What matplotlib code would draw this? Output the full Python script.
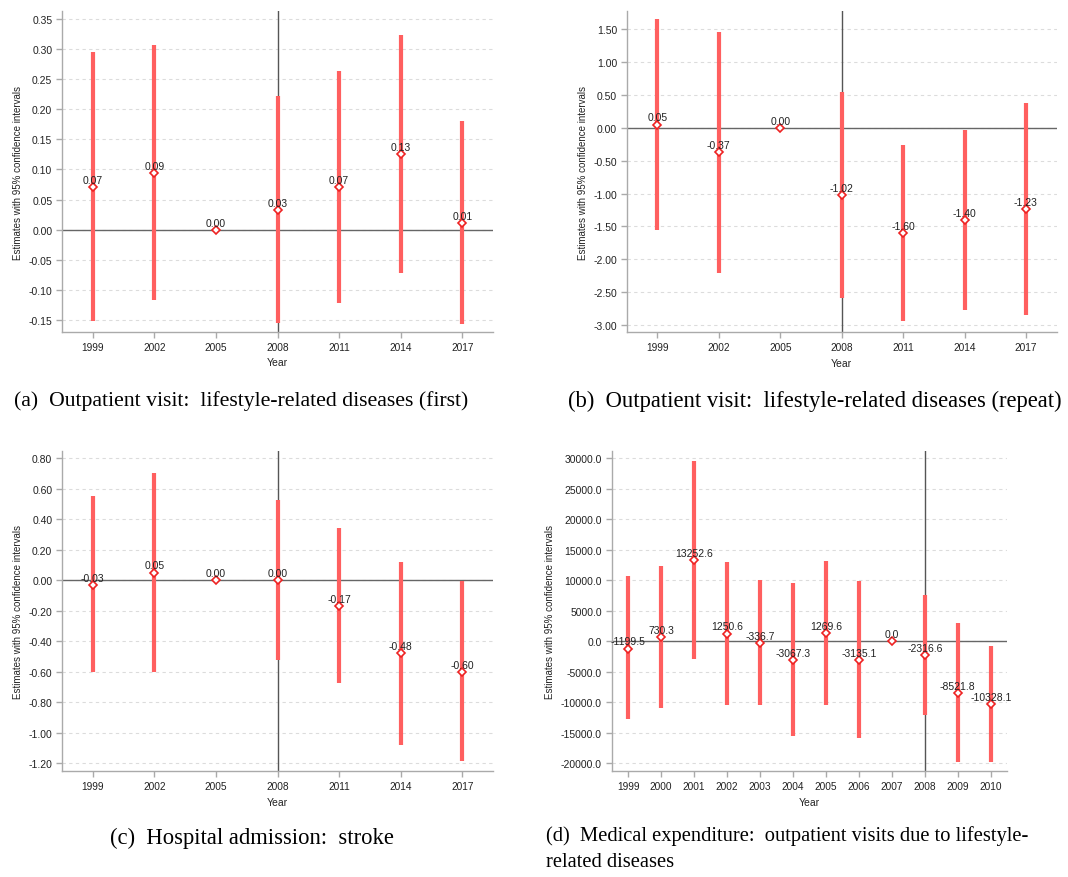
import numpy as np
import matplotlib
matplotlib.use('Agg')
from matplotlib import pyplot as plt

nan = np.nan

# panel (a) outpatient visit, first
years_a = [1999, 2002, 2005, 2008, 2011, 2014, 2017]
est_a = [0.071, 0.094, 0.0, 0.033, 0.071, 0.126, 0.011]
lo_a = [-0.152, -0.117, nan, -0.155, -0.121, -0.072, -0.157]
hi_a = [0.295, 0.306, nan, 0.222, 0.263, 0.323, 0.180]

# panel (b) outpatient visit, repeat
years_b = [1999, 2002, 2005, 2008, 2011, 2014, 2017]
est_b = [0.05, -0.37, 0.0, -1.02, -1.60, -1.40, -1.23]
lo_b = [-1.56, -2.21, nan, -2.58, -2.94, -2.77, -2.84]
hi_b = [1.65, 1.45, nan, 0.54, -0.26, -0.035, 0.375]

# panel (c) hospital admission, stroke
years_c = [1999, 2002, 2005, 2008, 2011, 2014, 2017]
est_c = [-0.03, 0.05, 0.0, 0.002, -0.17, -0.48, -0.60]
lo_c = [-0.603, -0.603, nan, -0.52, -0.675, -1.077, -1.187]
hi_c = [0.553, 0.70, nan, 0.525, 0.34, 0.121, -0.004]

# panel (d) medical expenditure
years_d = [1999, 2000, 2001, 2002, 2003, 2004, 2005, 2006, 2007, 2008, 2009, 2010]
est_d = [-1199.5, 730.3, 13252.6, 1250.6, -336.7, -3067.3, 1269.6, -3135.1, 0.0, -2316.6, -8521.8, -10328.1]
lo_d = [-12744, -10888, -2918, -10397, -10452, -15474, -10452, -15910, nan, -12089, -19841, -19730]
hi_d = [10621, 12368, 29563, 12913, 10020, 9529, 13077, 9856, nan, 7618, 3033, -734]

yticks_a = [-0.15, -0.10, -0.05, 0.0, 0.05, 0.10, 0.15, 0.20, 0.25, 0.30, 0.35]
yticks_b = [-3.0, -2.5, -2.0, -1.5, -1.0, -0.5, 0.0, 0.5, 1.0, 1.5]
yticks_c = [-1.2, -1.0, -0.8, -0.6, -0.4, -0.2, 0.0, 0.2, 0.4, 0.6, 0.8]
yticks_d = [-20000, -15000, -10000, -5000, 0, 5000, 10000, 15000, 20000, 25000, 30000]

captions = ['(a)  Outpatient visit:  lifestyle-related diseases (first)',
            '(b)  Outpatient visit:  lifestyle-related diseases (repeat)',
            '(c)  Hospital admission:  stroke',
            '(d)  Medical expenditure:  outpatient visits due to lifestyle-\nrelated diseases']

ci_color = '#ff5f5f'
sans = ['Liberation Sans', 'DejaVu Sans']


def draw_panel(ax, years, est, lo, hi, yticks, ylim, xlim, fmt):
    for t in yticks:
        ax.axhline(t, color='#dcdcdc', lw=0.8, ls=(0, (3, 3)), zorder=0)
    ax.axhline(0, color='#666666', lw=1.0, zorder=1)
    ax.axvline(2008, color='#555555', lw=1.0, zorder=1)
    ax.vlines(years, lo, hi, color=ci_color, lw=3.0, zorder=2)
    ax.plot(years, est, ls='none', marker='D', ms=4.5, mfc='white',
            mec='#ee2222', mew=1.2, zorder=3)
    for x, y in zip(years, est):
        ax.annotate(fmt % y, (x, y), xytext=(0, 1.5), textcoords='offset points',
                    ha='center', va='bottom', fontsize=7.5, family=sans,
                    color='#222222', zorder=4)
    ax.set_xlim(*xlim)
    ax.set_ylim(*ylim)
    ax.set_xticks(years)
    ax.set_xticklabels([str(y) for y in years], family=sans, fontsize=7.3, color='#222222')
    ax.set_yticks(yticks)
    ax.set_yticklabels([fmt % t for t in yticks], family=sans, fontsize=7.5, color='#222222')
    ax.set_xlabel('Year', family=sans, fontsize=7.5, color='#222222', labelpad=4)
    ax.set_ylabel('Estimates with 95% confidence intervals', family=sans, fontsize=7,
                  color='#222222', labelpad=4)
    for s in ['top', 'right']:
        ax.spines[s].set_visible(False)
    for s in ['left', 'bottom']:
        ax.spines[s].set_color('#aaaaaa')
        ax.spines[s].set_linewidth(1.0)
    ax.tick_params(axis='both', colors='#aaaaaa', length=4, width=1.0, pad=3,
                   labelcolor='#222222')


fig = plt.figure(figsize=(10.68, 8.78), dpi=100)

ax_a = fig.add_axes([0.0581, 0.6207, 0.4036, 0.3656])
draw_panel(ax_a, years_a, est_a, lo_a, hi_a, yticks_a,
           (-0.170, 0.363), (1997.5, 2018.5), '%.2f')

ax_b = fig.add_axes([0.5868, 0.6203, 0.4026, 0.3663])
draw_panel(ax_b, years_b, est_b, lo_b, hi_b, yticks_b,
           (-3.11, 1.78), (1997.5, 2018.5), '%.2f')

ax_c = fig.add_axes([0.0581, 0.1204, 0.4036, 0.3651])
draw_panel(ax_c, years_c, est_c, lo_c, hi_c, yticks_c,
           (-1.252, 0.848), (1997.5, 2018.5), '%.2f')

ax_d = fig.add_axes([0.5727, 0.1204, 0.3704, 0.3651])
draw_panel(ax_d, years_d, est_d, lo_d, hi_d, yticks_d,
           (-21310, 31200), (1998.5, 2010.5), '%.1f')

serif = ['Liberation Serif', 'DejaVu Serif']
fig.text(241.5 / 1068, 1 - 401 / 878, captions[0], ha='center', va='center', fontsize=15.7, family=serif)
fig.text(815 / 1068, 1 - 401 / 878, captions[1], ha='center', va='center', fontsize=16.3, family=serif)
fig.text(252 / 1068, 1 - 838 / 878, captions[2], ha='center', va='center', fontsize=16.3, family=serif)
fig.text(546 / 1068, 1 - 826 / 878, captions[3], ha='left', va='top', fontsize=14.8, family=serif,
         linespacing=1.5)

fig.savefig('out.png', dpi=100)
